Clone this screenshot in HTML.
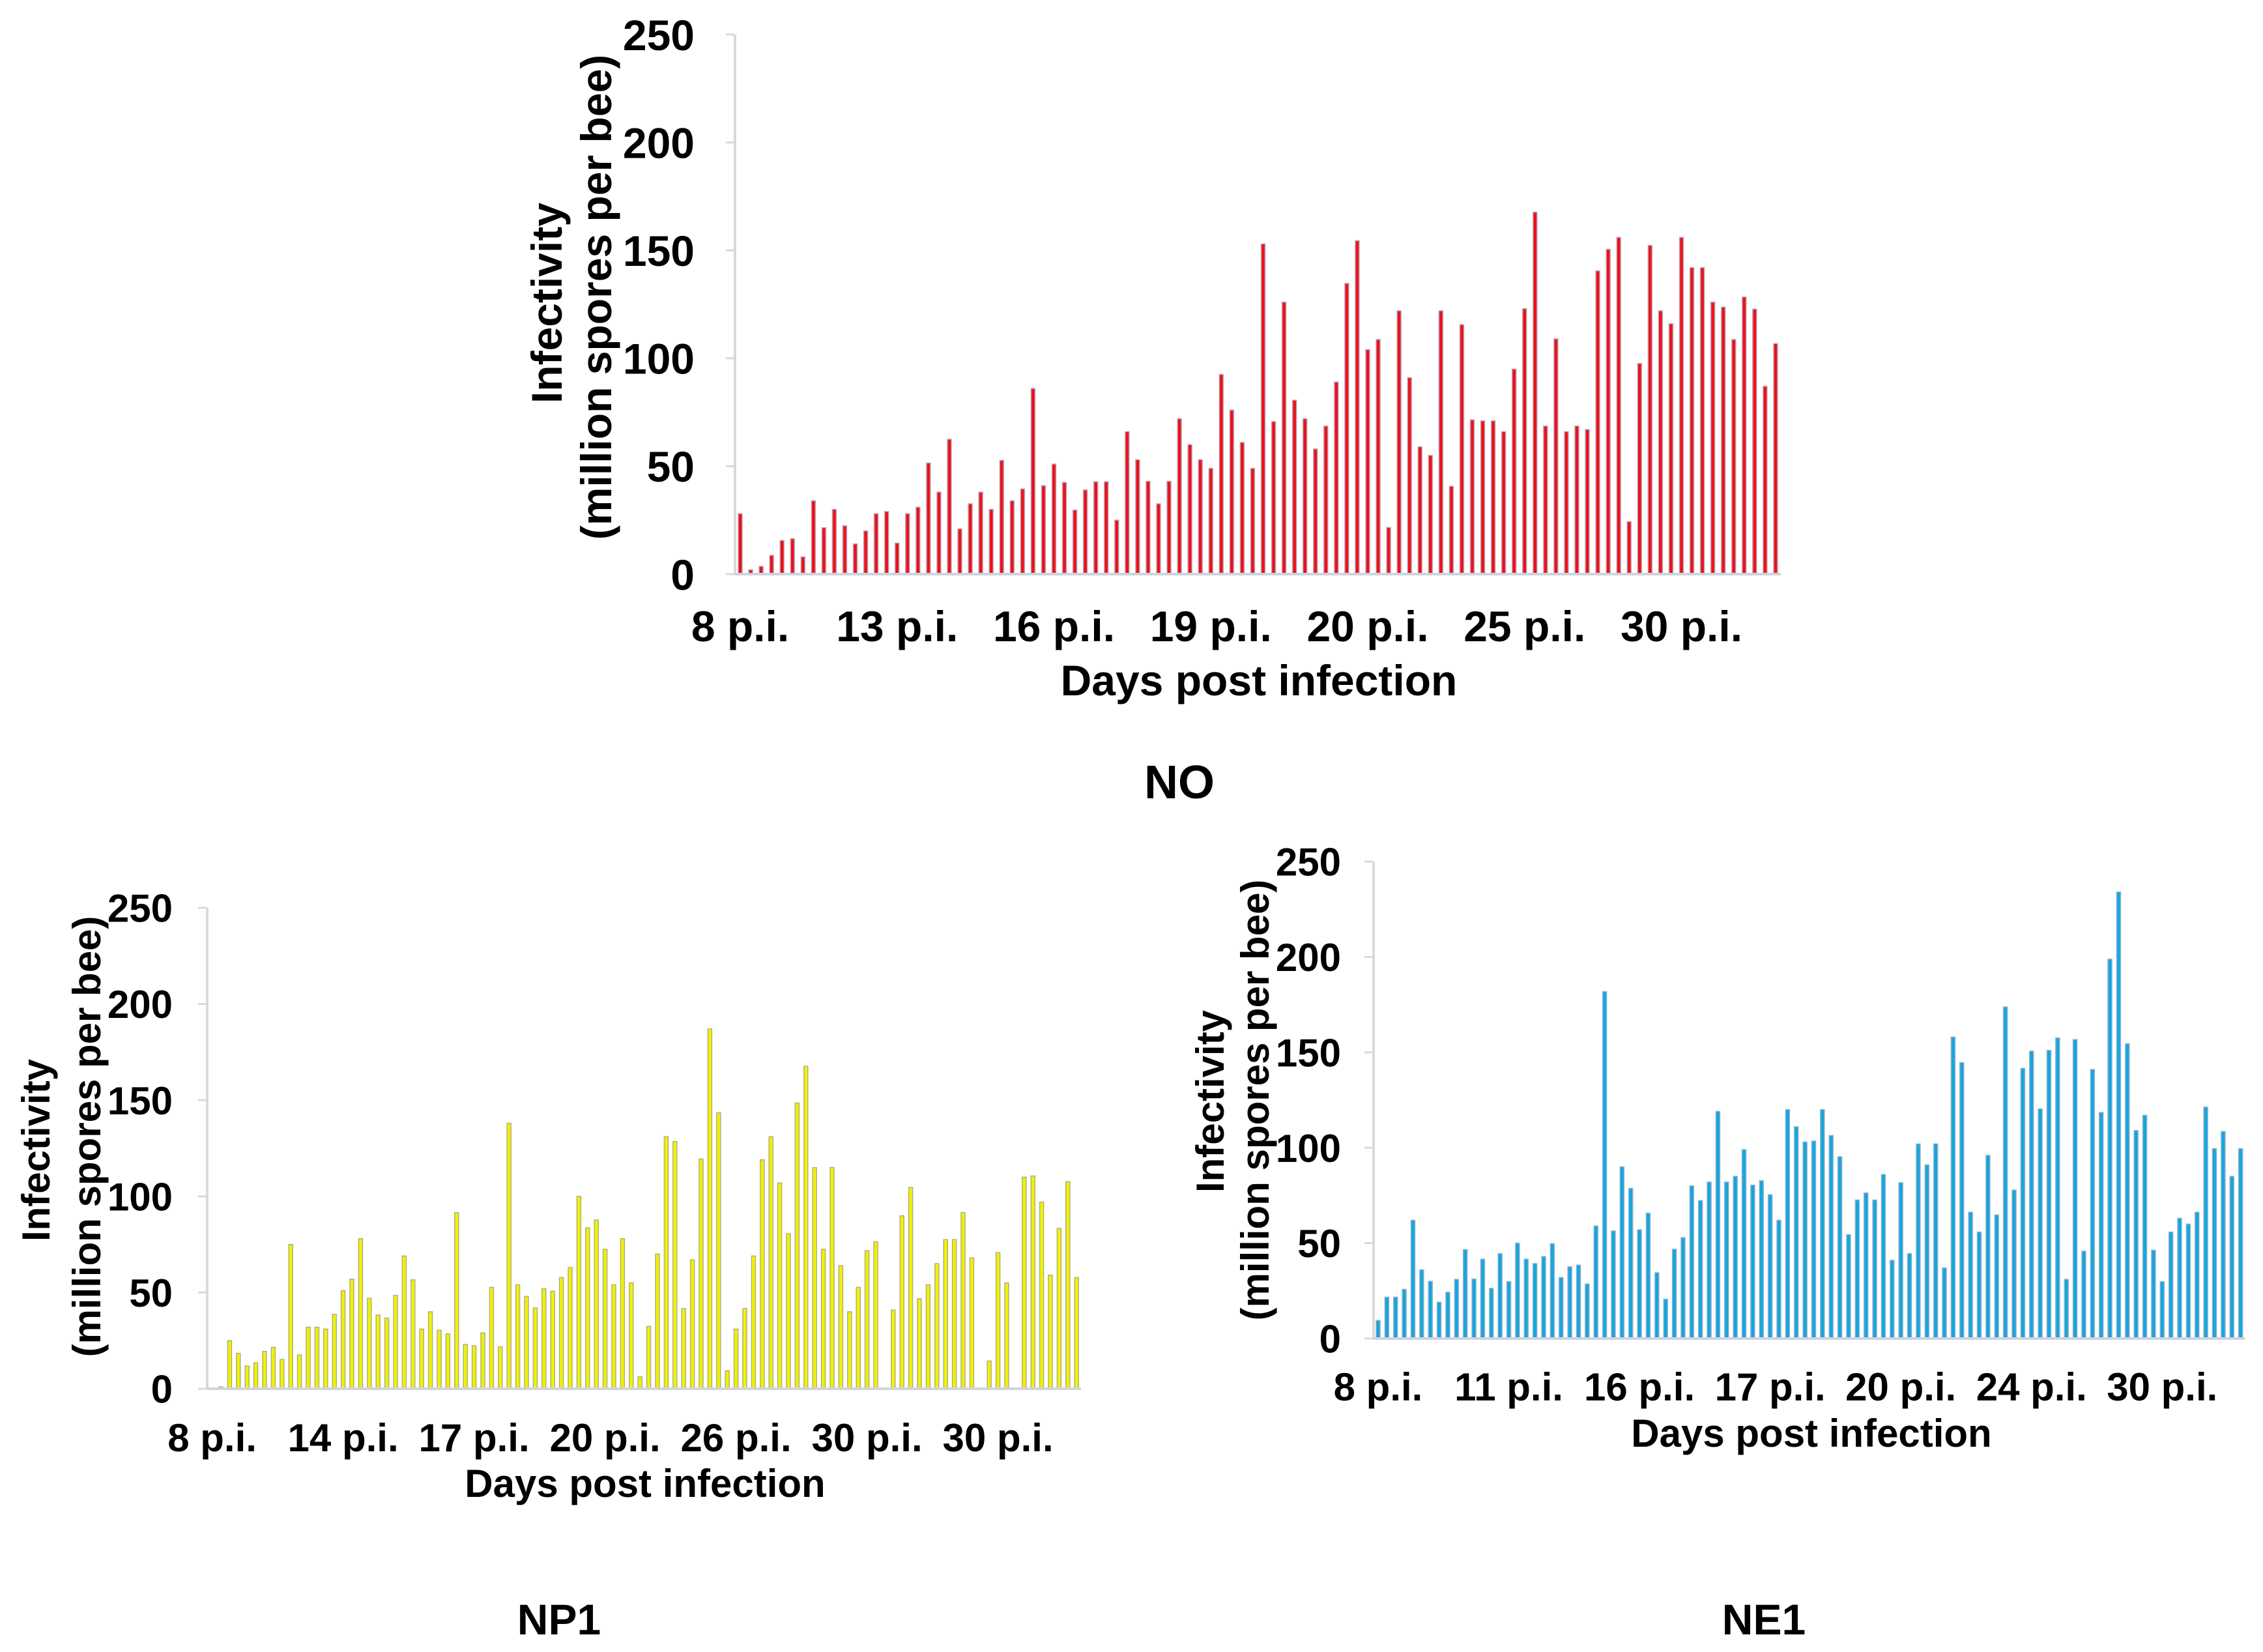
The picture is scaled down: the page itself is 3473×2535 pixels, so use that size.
<!DOCTYPE html>
<html><head><meta charset="utf-8">
<style>
html,body{margin:0;padding:0;background:#fff;}
svg{display:block;}
text{font-family:"Liberation Sans",Arial,sans-serif;font-weight:bold;fill:#000;}
</style></head>
<body>
<svg id="fig" width="3473" height="2535" viewBox="0 0 3473 2535" xmlns="http://www.w3.org/2000/svg"></svg>
<script>
// ---- data ----
const noValues = [28,2,3.6,8.7,15.6,16.4,8,34,21.5,30,22.4,14,20,28,29,14.4,28,31,51.5,38,62.5,21,32.6,38,30,52.7,34,39.5,86,41,51,42.5,29.7,39,42.8,42.8,25,66,53,43,32.6,43,72,60,53,49,92.5,76,61,49,153,70.7,126,80.6,72,58,68.6,89,134.7,154.5,104,108.7,21.6,122,91,59,55,122,40.7,115.6,71.5,71,71,66,95,123,167.7,68.6,109,66,68.6,67,140.5,150.5,156,24.3,97.6,152.3,122,116,156,142,142,126,123.7,108.7,128.4,122.8,87,106.8];
const np1Values = [0,1,25,18.4,11.8,13.5,19.4,21.5,15.2,75,17.6,32,32,31,38.7,51,57,78,47,38.3,36.7,48.5,69,56.6,31,40,30.4,28.5,91.6,23,22.3,29,52.7,21.8,138,54,48,42,52,50.7,57.8,63,100,83.6,87.7,72.5,54,78,55,6.2,32.4,70,131,128.5,41.7,67,119.4,187,143.4,9.3,31,41.7,69,119,131,107,80.6,148.5,167.6,114.9,72.5,115,64,40,52.7,71.8,76.4,0,40.9,89.9,104.6,46.8,54,65,77.5,77.5,91.6,68,0,14.4,70.8,55,0,110,110.6,97,59,83.4,107.6,57.8];
const ne1Values = [9.5,21.7,21.7,25.8,62,36,30,19,24.3,31,46.6,31.2,41.6,26.3,44.5,29.8,50,41.6,39.3,43,49.7,32,37.6,38.5,28.6,59,181.8,56.4,90,78.7,57,65.7,34.5,20.6,46.8,52.9,80,72.3,82,119,82,85,99,80.4,82.7,75.4,62,120,111,103,103.5,120,106.4,95.3,54.4,72.6,76.3,72.6,86,41,81.7,44.5,102,91,102,37,158,144.6,66.2,55.8,96,64.8,173.8,77.8,141.6,150.6,120.3,151,157.5,31,156.7,45.8,141,118.5,198.8,234,154.5,109,117,46.3,29.8,55.8,63,60,66.2,121.3,99.5,108.5,85,99.5];
const yTicks = [0,50,100,150,200,250];
const noXLabels = ["8 p.i.","13 p.i.","16 p.i.","19 p.i.","20 p.i.","25 p.i.","30 p.i."];
const np1XLabels = ["8 p.i.","14 p.i.","17 p.i.","20 p.i.","26 p.i.","30 p.i.","30 p.i."];
const ne1XLabels = ["8 p.i.","11 p.i.","16 p.i.","17 p.i.","20 p.i.","24 p.i.","30 p.i."];
const labelEvery = 15;
const yMax = 250;

const NS = "http://www.w3.org/2000/svg";
const svg = document.getElementById("fig");
function mk(tag, attrs, parent){
  const e = document.createElementNS(NS, tag);
  for (const k in attrs) e.setAttribute(k, attrs[k]);
  (parent||svg).appendChild(e);
  return e;
}

function drawChart(cfg){
  const g = mk("g", {});
  
  
  const yScale = v => cfg.y0 - (v / yMax) * (cfg.y0 - cfg.yTop);
  const xScale = i => cfg.firstX + i * cfg.band;
  const axisEnd = xScale(cfg.values.length - 1) + cfg.band * 0.5;
  const ya = mk("line", {x1:cfg.axisX, y1:cfg.yTop, x2:cfg.axisX, y2:cfg.y0, stroke:"#d9d9d9", "stroke-width":4}, g);
  
  
  yTicks.forEach(t => {
    const y = yScale(t);
    const tk = mk("line", {x1:cfg.axisX-14, y1:y, x2:cfg.axisX, y2:y, stroke:"#d9d9d9", "stroke-width":3}, g);
    
    
    const tl = mk("text", {x:cfg.yLabelRight, y:y + cfg.fs*0.36, "text-anchor":"end", "font-size":cfg.fs}, g);
    tl.textContent = String(t);
    
    
  });
  cfg.values.forEach((v, i) => {
    if (v <= 0) return;
    const x = xScale(i);
    const y = yScale(v);
    const b = mk("rect", {x:x - cfg.barW/2, y:y, width:cfg.barW, height:cfg.y0 - y, fill:cfg.color, stroke:cfg.edge, "stroke-width":1.5}, g);
    
    
  });
  const xa = mk("line", {x1:cfg.axisX, y1:cfg.y0, x2:axisEnd, y2:cfg.y0, stroke:"#cfd3de", "stroke-width":4}, g);
  
  
  cfg.xLabels.forEach((lab, k) => {
    const t = mk("text", {x:xScale(k*labelEvery), y:cfg.xLabelY, "text-anchor":"middle", "font-size":cfg.fs}, g);
    t.textContent = lab;
    
    
  });
  const xt = mk("text", {x:cfg.xTitleX, y:cfg.xTitleY, "text-anchor":"middle", "font-size":cfg.fs}, g);
  xt.textContent = "Days post infection";
  
  
  const yt1 = mk("text", {x:0, y:0, "text-anchor":"middle", "font-size":cfg.fs, transform:`translate(${cfg.yT1X},${cfg.yTY}) rotate(-90)`}, g);
  yt1.textContent = "Infectivity";
  
  
  const yt2 = mk("text", {x:0, y:0, "text-anchor":"middle", "font-size":cfg.fs, transform:`translate(${cfg.yT2X},${cfg.yTY2}) rotate(-90)`}, g);
  yt2.textContent = "(million spores per bee)";
  
  
  const pl = mk("text", {x:cfg.panelX, y:cfg.panelY, "text-anchor":"middle", "font-size":cfg.fs+6}, g);
  pl.textContent = cfg.name;
  
  
}

drawChart({name:"NO", values:noValues, xLabels:noXLabels, color:"#ee1119", edge:"#b8a6b8",
  axisX:1128, firstX:1136, band:16.05, barW:6, y0:881, yTop:53, fs:66,
  yLabelRight:1066, xLabelY:984, xTitleX:1932, xTitleY:1067,
  yT1X:862, yT2X:938, yTY:465, yTY2:456, panelX:1810, panelY:1225});

drawChart({name:"NP1", values:np1Values, xLabels:np1XLabels, color:"#f2f200", edge:"#b0b080",
  axisX:318, firstX:325.6, band:13.4, barW:6, y0:2131, yTop:1393, fs:60,
  yLabelRight:265, xLabelY:2227, xTitleX:990, xTitleY:2297,
  yT1X:76, yT2X:154, yTY:1765, yTY2:1744, panelX:858, panelY:2508});

drawChart({name:"NE1", values:ne1Values, xLabels:ne1XLabels, color:"#12a6e0", edge:"#8fb0c8",
  axisX:2108, firstX:2115, band:13.37, barW:6, y0:2054, yTop:1322, fs:60,
  yLabelRight:2058, xLabelY:2149, xTitleX:2780, xTitleY:2220,
  yT1X:1878, yT2X:1947, yTY:1690, yTY2:1688, panelX:2707, panelY:2508});
</script>
</body></html>
